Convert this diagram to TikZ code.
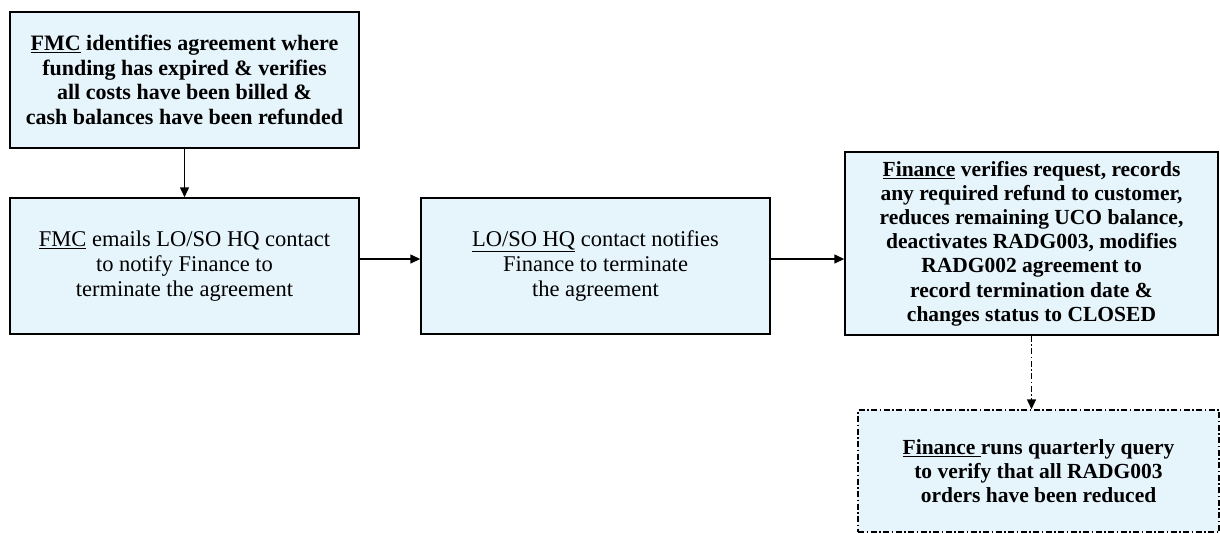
\documentclass[tikz,border=0pt]{standalone}
\usepackage{fontspec}
\setmainfont{Liberation Serif}
\usetikzlibrary{arrows.meta}
\definecolor{boxfill}{RGB}{230,244,252}
\begin{document}
\begin{tikzpicture}[x=1pt,y=-1pt,
  flowbox/.style={draw=black,line width=1.5pt,fill=boxfill,align=center,inner sep=0pt},
  boldtext/.style={font=\fontsize{22}{24.5}\selectfont\bfseries},
  boldtextb/.style={font=\fontsize{21.5}{24.2}\selectfont\bfseries},
  plaintext/.style={font=\fontsize{22.5}{25}\selectfont},
  conn/.style={line width=1.5pt,-{Triangle[length=10pt,width=9pt]}},
  dashdot/.style={dash pattern=on 6pt off 2.5pt on 1.5pt off 2.5pt}]
\useasboundingbox (0,0) rectangle (1220,533);
\node[flowbox,boldtext,minimum width=349pt,minimum height=136pt] (b1) at (184.5,80)
 {\underline{FMC} identifies agreement where\\funding has expired \& verifies\\all costs have been billed \&\\cash balances have been refunded};
\node[flowbox,plaintext,minimum width=349pt,minimum height=136pt] (b2) at (184.5,266)
 {\underline{FMC} emails LO/SO HQ contact\\to notify Finance to\\terminate the agreement};
\node[flowbox,plaintext,minimum width=349pt,minimum height=136pt] (b3) at (595.5,266)
 {\underline{LO/SO HQ} contact notifies\\Finance to terminate\\the agreement};
\node[flowbox,boldtextb,minimum width=373pt,minimum height=183pt] (b4) at (1031.5,243.5)
 {\underline{Finance} verifies request, records\\any required refund to customer,\\reduces remaining UCO balance,\\deactivates RADG003, modifies\\RADG002 agreement to\\record termination date \&\\changes status to CLOSED};
\node[flowbox,boldtextb,dashdot,minimum width=361pt,minimum height=122pt] (b5) at (1038.5,471)
 {\underline{Finance }runs quarterly query\\to verify that all RADG003\\orders have been reduced};
\draw[conn] (b1.south) -- (b2.north);
\draw[conn] ([yshift=7pt]b2.east) -- ([yshift=7pt]b3.west);
\draw[conn] ([yshift=7pt]b3.east) -- ([yshift=7pt]b3.east -| b4.west);
\draw[conn,dashdot] (b4.south) -- (b5.north -| b4.south);
\end{tikzpicture}
\end{document}
